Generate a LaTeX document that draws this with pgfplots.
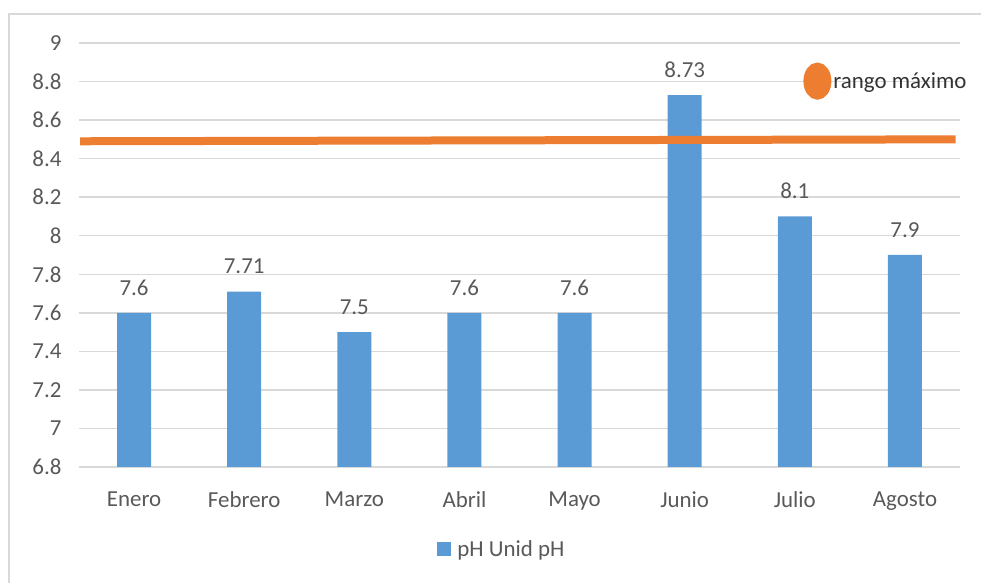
\documentclass[border=0pt]{standalone}
\usepackage{pgfplots}
\pgfplotsset{compat=1.18}
\usepackage{fontspec}
\setmainfont{Carlito}
\definecolor{barblue}{HTML}{5B9BD5}
\definecolor{lineorange}{HTML}{ED7D31}
\definecolor{txtgray}{HTML}{595959}
\definecolor{gridgray}{HTML}{D9D9D9}
\begin{document}
\begin{tikzpicture}[x=1bp,y=1bp]
\path[use as bounding box] (0,0) rectangle (981,583);
\draw[gridgray, line width=2bp] (9,0) -- (9,569) -- (981,569);
\begin{axis}[
  at={(79bp,116bp)}, anchor=south west,
  scale only axis, width=881bp, height=424bp,
  xmin=-0.5, xmax=7.5, ymin=6.8, ymax=9,
  ytick={6.8,7,...,9.01},
  xtick={0,...,7},
  xticklabels={Enero,Febrero,Marzo,Abril,Mayo,Junio,Julio,Agosto},
  axis line style={draw=none},
  major tick length=0pt,
  ymajorgrids, major grid style={gridgray, line width=1.5bp},
  /pgf/number format/assume math mode=true,
  tick label style={font=\fontsize{23}{27}\selectfont, text=txtgray},
  xticklabel style={yshift=-21bp},
  yticklabel style={xshift=-14bp},
  legend style={at={(0.48,-0.193)}, anchor=center, draw=none, fill=none,
    font=\fontsize{23}{27}\selectfont, text=txtgray,
    /tikz/every odd column/.append style={column sep=4bp}},
  legend image code/.code={\fill[barblue] (0bp,-7bp) rectangle (14bp,7bp);},
]
\addplot[ybar, bar width=34bp, fill=barblue, draw=none,
  nodes near coords, every node near coord/.append style={font=\fontsize{23}{27}\selectfont, text=txtgray, yshift=14bp}]
  coordinates {(0,7.6) (1,7.71) (2,7.5) (3,7.6) (4,7.6) (5,8.73) (6,8.1) (7,7.9)};
\addlegendentry{pH Unid pH}
\end{axis}
\begin{axis}[
  at={(79bp,116bp)}, anchor=south west,
  scale only axis, width=881bp, height=424bp,
  xmin=-0.5, xmax=7.5, ymin=6.8, ymax=9,
  hide axis,
  legend style={at={(0.822,0.91)}, anchor=west, draw=none, fill=none,
    font=\fontsize{23}{27}\selectfont, text=black!80, inner sep=0pt,
    /tikz/every even column/.append style={column sep=0bp}},
  legend image code/.code={\fill[lineorange] (10bp,0bp) ellipse (10bp and 14.5bp);},
]
\addplot[lineorange, line width=8bp] coordinates {(-0.49,8.49) (7.46,8.50)};
\addlegendentry{rango máximo}
\end{axis}
\end{tikzpicture}
\end{document}
